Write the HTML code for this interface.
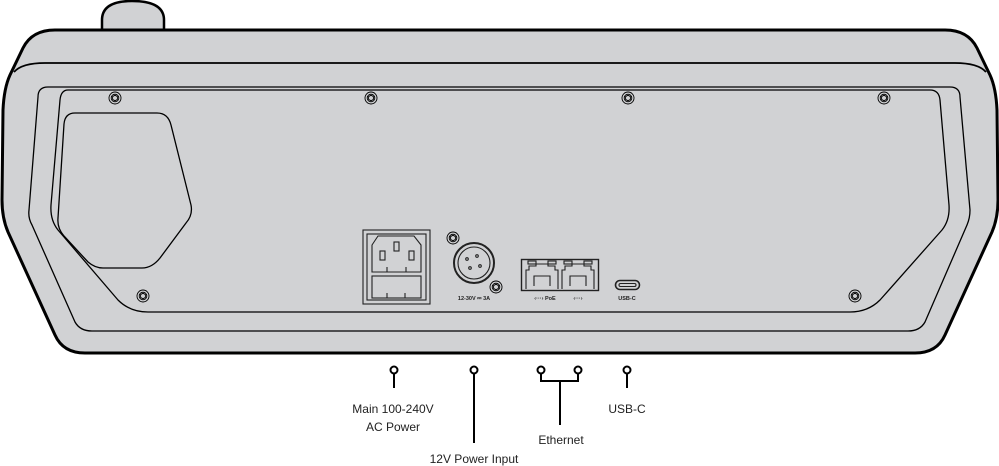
<!DOCTYPE html>
<html><head><meta charset="utf-8"><style>
html,body{margin:0;padding:0;background:#fff;width:999px;height:466px;overflow:hidden}
svg{display:block}
text{font-family:"Liberation Sans",sans-serif;fill:#222}
</style></head><body>
<svg width="999" height="466" viewBox="0 0 999 466" xmlns="http://www.w3.org/2000/svg">
<g stroke="#000" fill="#d1d2d4" stroke-linejoin="round">
<!-- knob -->
<path d="M102 31 L102 20 Q102 1 132 1 Q164 1 164 20 L164 31 Z" stroke-width="2.5"/>
<!-- body -->
<path d="M55 30 L945 30 Q968 30 977 48 L990 75 Q996 88 997 110 L998 200 Q998 218 992 232 L945 335 Q937 353 915 353 L85 353 Q63 353 55 335 L8 232 Q2 218 2 200 L3 110 Q4 88 10 75 L23 48 Q32 30 55 30 Z" stroke-width="3"/>
<!-- seam -->
<path d="M14 72 Q22 63 45 63 L955 63 Q978 63 986 72" fill="none" stroke-width="1.8"/>
<!-- panel 1 -->
<path d="M48 87 L950 87 Q960 87 960 97 L970 210 Q970 218 967 225 L925 322 Q920 331 908 331 L92 331 Q80 331 75 322 L32 225 Q28 218 29 210 L38 97 Q38 87 48 87 Z" stroke-width="1.3"/>
<!-- panel 2 -->
<path d="M68 90 L930 90 Q939 90 940 100 L949 205 Q950 220 942 230 L880 300 Q868 312 850 312 L148 312 Q130 312 118 300 L58 230 Q50 220 51 205 L60 100 Q61 90 68 90 Z" stroke-width="1.3"/>
<!-- cutout -->
<path d="M75 113 L157 113 Q168 113 171 125 L191 205 Q193 215 186 223 L160 258 Q152 268 142 268 L103 268 Q95 268 88 262 L64 236 Q57 228 58 218 L64 124 Q65 113 75 113 Z" stroke-width="1.3"/>
</g>
<!-- screws -->
<g fill="none" stroke="#000" stroke-width="0.9">
<g transform="translate(115,98)"><circle r="6"/><circle r="3.8"/><polygon points="0,-2.8 2.4,-1.4 2.4,1.4 0,2.8 -2.4,1.4 -2.4,-1.4"/></g>
<g transform="translate(371,98)"><circle r="6"/><circle r="3.8"/><polygon points="0,-2.8 2.4,-1.4 2.4,1.4 0,2.8 -2.4,1.4 -2.4,-1.4"/></g>
<g transform="translate(628,98)"><circle r="6"/><circle r="3.8"/><polygon points="0,-2.8 2.4,-1.4 2.4,1.4 0,2.8 -2.4,1.4 -2.4,-1.4"/></g>
<g transform="translate(884,98)"><circle r="6"/><circle r="3.8"/><polygon points="0,-2.8 2.4,-1.4 2.4,1.4 0,2.8 -2.4,1.4 -2.4,-1.4"/></g>
<g transform="translate(143,296)"><circle r="6"/><circle r="3.8"/><polygon points="0,-2.8 2.4,-1.4 2.4,1.4 0,2.8 -2.4,1.4 -2.4,-1.4"/></g>
<g transform="translate(855,296)"><circle r="6"/><circle r="3.8"/><polygon points="0,-2.8 2.4,-1.4 2.4,1.4 0,2.8 -2.4,1.4 -2.4,-1.4"/></g>
<g transform="translate(453,238)"><circle r="6"/><circle r="3.8"/><polygon points="0,-2.8 2.4,-1.4 2.4,1.4 0,2.8 -2.4,1.4 -2.4,-1.4"/></g>
<g transform="translate(496,287)"><circle r="6"/><circle r="3.8"/><polygon points="0,-2.8 2.4,-1.4 2.4,1.4 0,2.8 -2.4,1.4 -2.4,-1.4"/></g>
</g>
<!-- IEC -->
<g fill="none" stroke="#222" stroke-width="1.1">
<rect x="363" y="230" width="67" height="74"/>
<rect x="367" y="234" width="59" height="66"/>
<path d="M372 245 L378 236 L414 236 L421 245 L421 272 L372 272 Z"/>
<rect x="380" y="251" width="5" height="9"/><rect x="394" y="242" width="5" height="9"/><rect x="409" y="251" width="5" height="9"/>
<line x1="387" y1="267" x2="387" y2="272"/><line x1="406" y1="267" x2="406" y2="272"/>
<rect x="372" y="276" width="49" height="22"/>
<line x1="387" y1="293" x2="387" y2="298"/><line x1="405" y1="293" x2="405" y2="298"/>
<!-- XLR -->
<circle cx="474" cy="263" r="20" stroke-width="2"/>
<circle cx="474" cy="263" r="16"/>
<circle cx="467" cy="259" r="1.3"/><circle cx="477" cy="256" r="1.3"/><circle cx="470" cy="268" r="1.3"/><circle cx="480" cy="266" r="1.3"/>
<!-- RJ45 -->
<rect x="521.5" y="259.5" width="77" height="31" stroke-width="1.4"/>
<path d="M526 289 L526 270 L529 270 L529 266 L536 266 L536 264 L548 264 L548 266 L555 266 L555 270 L558 270 L558 289"/>
<rect x="528" y="261" width="8" height="3"/><rect x="548" y="261" width="8" height="3"/>
<path d="M534 286 L534 276 L550 276 L550 286"/>
<path d="M562 289 L562 270 L565 270 L565 266 L572 266 L572 264 L584 264 L584 266 L591 266 L591 270 L594 270 L594 289"/>
<rect x="564" y="261" width="8" height="3"/><rect x="584" y="261" width="8" height="3"/>
<path d="M570 286 L570 276 L586 276 L586 286"/>
<!-- USB-C -->
<rect x="615.5" y="280.5" width="24" height="9" rx="4.5" stroke-width="1.6"/>
<rect x="619" y="283.5" width="17" height="3" rx="1.5"/>
</g>
<g font-size="5.5" font-weight="bold" text-anchor="middle">
<text x="474" y="300">12-30V ⎓ 3A</text>
<text x="545" y="300">‹···› PoE</text>
<text x="578" y="300">‹···›</text>
<text x="627" y="300">USB-C</text>
</g>
<!-- callouts -->
<g stroke="#000" stroke-width="2" fill="#fff">
<line x1="394" y1="370" x2="394" y2="388"/>
<line x1="474" y1="370" x2="474" y2="443"/>
<path d="M541 370 L541 381 L578 381 L578 370" fill="none"/>
<line x1="560" y1="381" x2="560" y2="425"/>
<line x1="627" y1="370" x2="627" y2="388"/>
<circle cx="394" cy="370" r="3.5"/><circle cx="474" cy="370" r="3.5"/><circle cx="541" cy="370" r="3.5"/><circle cx="578" cy="370" r="3.5"/><circle cx="627" cy="370" r="3.5"/>
</g>
<g font-size="12" text-anchor="middle">
<text x="393" y="413">Main 100-240V</text>
<text x="393" y="431">AC Power</text>
<text x="474" y="463">12V Power Input</text>
<text x="561" y="444">Ethernet</text>
<text x="627" y="413">USB-C</text>
</g>
</svg>
</body></html>
